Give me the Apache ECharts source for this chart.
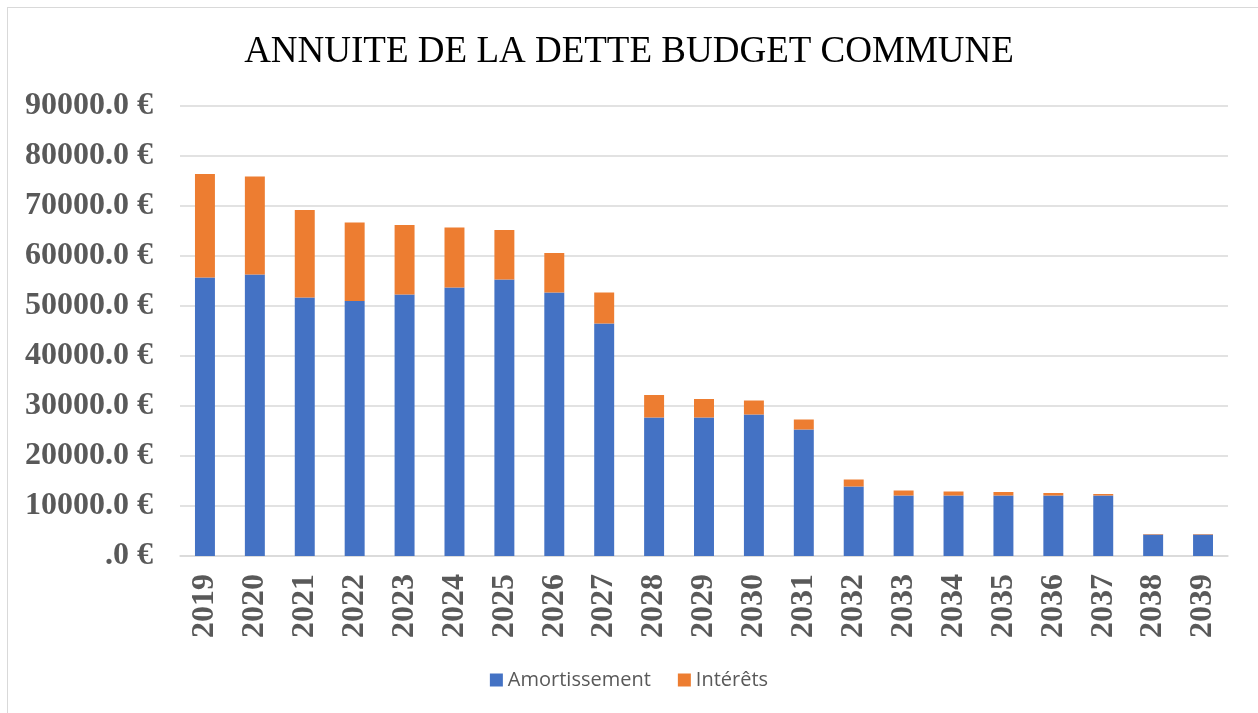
<!DOCTYPE html>
<html>
<head>
<meta charset="utf-8">
<script src="https://cdn.jsdelivr.net/npm/echarts@6/dist/echarts.min.js"></script>
<style>
  html, body { margin: 0; padding: 0; background: #fff; }
  #frame {
    position: absolute; left: 7px; top: 7px; width: 1260px; height: 720px;
    border: 1px solid #d9d9d9; box-sizing: border-box;
  }
  #chart { position: absolute; left: 0; top: 0; width: 1258px; height: 713px; }
</style>
</head>
<body>
<div id="frame"></div>
<div id="chart"></div>
<script>
// annees
var years = ["2019", "2020", "2021", "2022", "2023", "2024", "2025", "2026", "2027", "2028",
  "2029", "2030", "2031", "2032", "2033", "2034", "2035", "2036", "2037", "2038", "2039"];
// amortissement (bleu)
var amortissement = [55700, 56300, 51700, 51000, 52300, 53700, 55300, 52700, 46500, 27700,
  27700, 28300, 25300, 13900, 12100, 12100, 12100, 12100, 12100, 4300, 4300];
// interets (orange)
var interets = [20700, 19600, 17500, 15700, 13900, 12000, 9900, 7900, 6200, 4500,
  3700, 2800, 2000, 1400, 1000, 800, 700, 500, 300, 100, 100];

var chart = echarts.init(document.getElementById("chart"));

chart.setOption({
  animation: false,
  title: {
    text: "ANNUITE DE LA DETTE BUDGET COMMUNE",
    left: "center",
    top: 29,
    textStyle: {
      fontFamily: "Liberation Serif",
      fontWeight: "normal",
      fontSize: 37,
      color: "#000"
    }
  },
  legend: {
    bottom: 18,
    left: "center",
    itemWidth: 13,
    itemHeight: 13,
    itemGap: 27,
    icon: "rect",
    textStyle: {
      fontFamily: "Open Sans",
      fontSize: 20,
      color: "#595959"
    },
    data: ["Amortissement", "Intérêts"]
  },
  grid: {
    left: 180,
    right: 30,
    top: 106,
    bottom: 157
  },
  xAxis: {
    type: "category",
    data: years,
    axisTick: { show: false },
    axisLine: { lineStyle: { color: "#d9d9d9", width: 1.5 } },
    axisLabel: {
      rotate: 90,
      margin: 18,
      fontFamily: "Liberation Serif",
      fontWeight: "bold",
      fontSize: 32,
      color: "#595959"
    }
  },
  yAxis: {
    type: "value",
    min: 0,
    max: 90000,
    interval: 10000,
    axisLine: { show: false },
    axisTick: { show: false },
    splitLine: { lineStyle: { color: "#d9d9d9", width: 1.5 } },
    axisLabel: {
      margin: 27,
      fontFamily: "Liberation Serif",
      fontWeight: "bold",
      fontSize: 32,
      color: "#595959",
      formatter: function (v) {
        return v === 0 ? ".0 €" : v + ".0 €";
      }
    }
  },
  series: [
    {
      name: "Amortissement",
      type: "bar",
      stack: "total",
      barWidth: "40%",
      itemStyle: { color: "#4472c4" },
      data: amortissement
    },
    {
      name: "Intérêts",
      type: "bar",
      stack: "total",
      barWidth: "40%",
      itemStyle: { color: "#ed7d31" },
      data: interets
    }
  ]
});
</script>
</body>
</html>
